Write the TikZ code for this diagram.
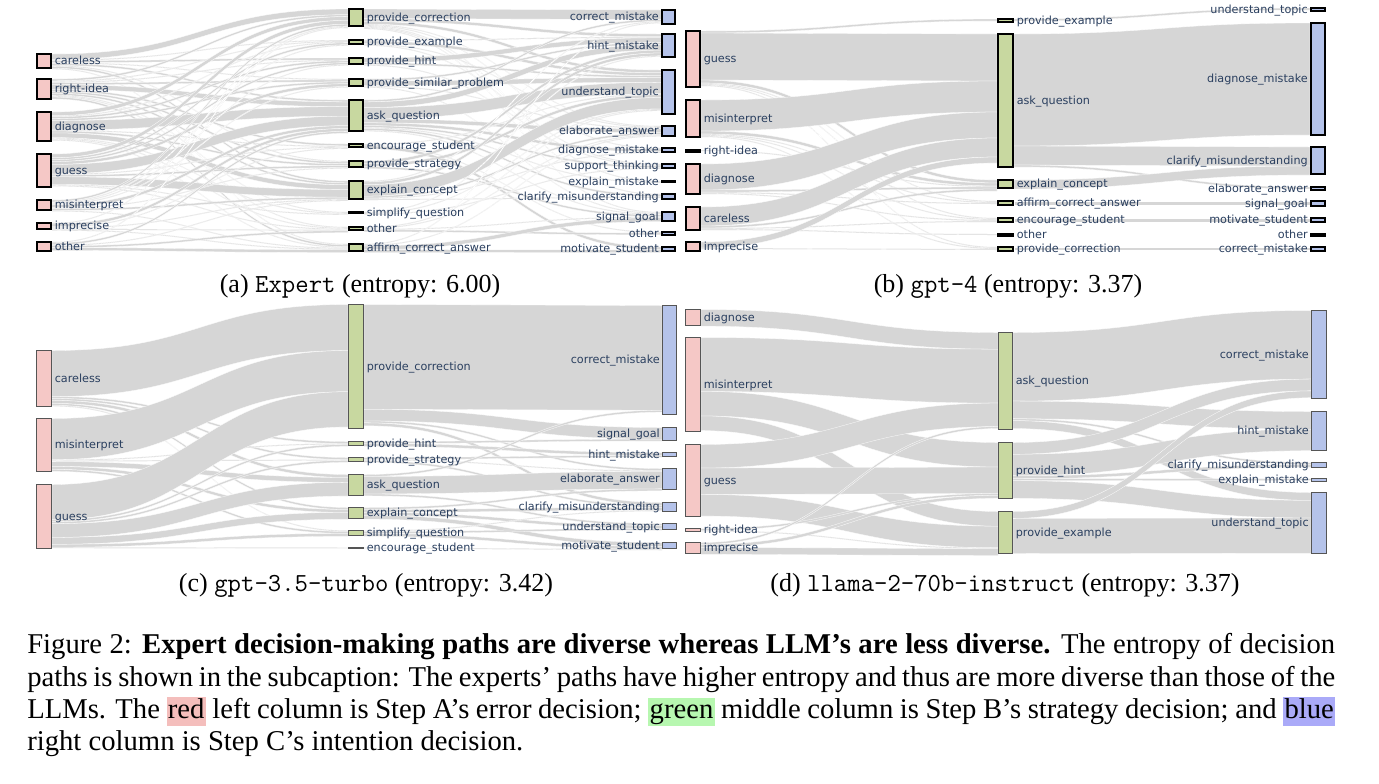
\documentclass[tikz,border=0pt]{standalone}
\usepackage{fontspec}
\setmainfont{Liberation Serif}
\newfontfamily\lblfont{DejaVu Sans}
\definecolor{pinkfill}{RGB}{245,200,198}
\definecolor{greenfill}{RGB}{200,216,160}
\definecolor{bluefill}{RGB}{181,195,234}
\definecolor{flowgray}{RGB}{214,214,214}
\definecolor{lblcol}{RGB}{42,63,95}
\definecolor{boxgray}{RGB}{85,85,85}
\definecolor{hlred}{RGB}{244,190,188}
\definecolor{hlgreen}{RGB}{183,247,176}
\definecolor{hlblue}{RGB}{170,170,248}
\makeatletter
\newcommand\skbw{2}
\newcommand\skscale{1}
\newcommand\skboxes{}
\newcommand\sknode[8]{%
  \pgfmathsetmacro\sk@t{#4+\skbw/2}%
  \expandafter\xdef\csname skxl@#1\endcsname{#2}%
  \expandafter\xdef\csname skxr@#1\endcsname{#3}%
  \expandafter\xdef\csname skout@#1\endcsname{\sk@t}%
  \expandafter\xdef\csname skin@#1\endcsname{\sk@t}%
  \edef\sk@tmp{\noexpand\skdrawbox{#1}{#2}{#3}{#4}{#5}{\unexpanded{#6}}{\skbw}{\unexpanded{#7}}{#8}}%
  \expandafter\g@addto@macro\expandafter\skboxes\expandafter{\sk@tmp}%
}
\newcommand\skdrawbox[9]{%
  \pgfmathsetmacro\sk@w{max((#3-#2-#7)*0.75,0.1)}%
  \pgfmathsetmacro\sk@h{max((#5-#4-#7)*0.75,0.1)}%
  \node[#6, inner sep=0pt, outer sep=0pt, minimum width=\sk@w pt, minimum height=\sk@h pt] (#1) at ({(#2+#3)/2},{(#4+#5)/2}) {};%
  \if#9L%
    \node[lbl, anchor=base west] (#1-t) at ({#3+2.5},{(#4+#5)/2+3.9}) {#8};%
  \else
    \node[lbl, anchor=base east] (#1-t) at ({#2-2},{(#4+#5)/2+3.9}) {#8};%
  \fi
}
\newcommand\sklink[3]{%
  \edef\sk@xa{\csname skxr@#1\endcsname}%
  \edef\sk@xb{\csname skxl@#2\endcsname}%
  \edef\sk@ya{\csname skout@#1\endcsname}%
  \edef\sk@yb{\csname skin@#2\endcsname}%
  \pgfmathsetmacro\sk@yaa{\sk@ya+#3*\skscale}%
  \pgfmathsetmacro\sk@ybb{\sk@yb+#3*\skscale}%
  \pgfmathsetmacro\sk@xm{(\sk@xa+\sk@xb)/2}%
  \expandafter\xdef\csname skout@#1\endcsname{\sk@yaa}%
  \expandafter\xdef\csname skin@#2\endcsname{\sk@ybb}%
  \path[flow] (\sk@xa,\sk@ya) .. controls (\sk@xm,\sk@ya) and (\sk@xm,\sk@yb) .. (\sk@xb,\sk@yb)
     -- (\sk@xb,\sk@ybb) .. controls (\sk@xm,\sk@ybb) and (\sk@xm,\sk@yaa) .. (\sk@xa,\sk@yaa) -- cycle;%
}
\newcommand\sklinks[3]{%
  \foreach \sk@d/\sk@v in {#3} {\sklink{#1}{#2\sk@d}{\sk@v}}%
}
\makeatother
\newcommand\hlbox[2]{{\setlength{\fboxsep}{1pt}\colorbox{#1}{\vphantom{Ag}#2}}}
\tikzset{
  flow/.style={fill=flowgray, draw=white, line width=0.2pt},
  boxA/.style={draw=black, line width=1.5pt},
  boxC/.style={draw=boxgray, line width=0.75pt},
  lbl/.style={font=\lblfont\fontsize{8.4}{10}\selectfont, text=lblcol, inner sep=0pt},
  rA/.style={boxA, fill=pinkfill}, gA/.style={boxA, fill=greenfill}, bA/.style={boxA, fill=bluefill},
  rC/.style={boxC, fill=pinkfill}, gC/.style={boxC, fill=greenfill}, bC/.style={boxC, fill=bluefill},
  subcap/.style={font=\fontsize{19.5}{24}\selectfont, inner sep=0pt}
}
\begin{document}
\begin{tikzpicture}[x=0.75pt,y=-0.75pt]
\fill[white] (0,0) rectangle (1379,783);
\useasboundingbox (0,0) rectangle (1379,783);
%% ---------------- (a) Expert ----------------
\renewcommand\skbw{2}
\sknode{aL-ca}{36}{52}{53}{69}{rA}{careless}{L}
\sknode{aL-ri}{36}{52}{78}{100}{rA}{right-idea}{L}
\sknode{aL-di}{36}{52}{111}{142}{rA}{diagnose}{L}
\sknode{aL-gu}{36}{52}{153}{188}{rA}{guess}{L}
\sknode{aL-mi}{36}{52}{199}{211}{rA}{misinterpret}{L}
\sknode{aL-im}{36}{52}{222}{230}{rA}{imprecise}{L}
\sknode{aL-ot}{36}{52}{241}{252}{rA}{other}{L}
\sknode{aM-pc}{348}{364}{8}{27}{gA}{provide\_correction}{L}
\sknode{aM-pe}{348}{364}{39}{45}{gA}{provide\_example}{L}
\sknode{aM-ph}{348}{364}{57}{65}{gA}{provide\_hint}{L}
\sknode{aM-psp}{348}{364}{78}{87}{gA}{provide\_similar\_problem}{L}
\sknode{aM-aq}{348}{364}{99}{132}{gA}{ask\_question}{L}
\sknode{aM-es}{348}{364}{143}{148}{gA}{encourage\_student}{L}
\sknode{aM-ps}{348}{364}{160}{168}{gA}{provide\_strategy}{L}
\sknode{aM-ec}{348}{364}{180}{200}{gA}{explain\_concept}{L}
\sknode{aM-sq}{348}{364}{211}{214}{gA}{simplify\_question}{L}
\sknode{aM-ot}{348}{364}{226}{231}{gA}{other}{L}
\sknode{aM-aca}{348}{364}{243}{252}{gA}{affirm\_correct\_answer}{L}
\sknode{aR-cm}{661}{676}{9}{25}{bA}{correct\_mistake}{R}
\sknode{aR-hm}{661}{676}{33}{58}{bA}{hint\_mistake}{R}
\sknode{aR-ut}{661}{676}{69}{115}{bA}{understand\_topic}{R}
\sknode{aR-ea}{661}{676}{125}{137}{bA}{elaborate\_answer}{R}
\sknode{aR-dm}{661}{676}{147}{153}{bA}{diagnose\_mistake}{R}
\sknode{aR-st}{661}{676}{163}{169}{bA}{support\_thinking}{R}
\sknode{aR-em}{661}{676}{180}{183}{bA}{explain\_mistake}{R}
\sknode{aR-cmu}{661}{676}{193}{200}{bA}{clarify\_misunderstanding}{R}
\sknode{aR-sg}{661}{676}{211}{222}{bA}{signal\_goal}{R}
\sknode{aR-ot}{661}{676}{231}{236}{bA}{other}{R}
\sknode{aR-ms}{661}{676}{246}{252}{bA}{motivate\_student}{R}
\renewcommand\skscale{0.95}
\sklinks{aL-ca}{aM-}{pc/6,pe/1,ph/2,psp/1,aq/2,ps/1,ec/2,aca/1}
\sklinks{aL-ri}{aM-}{pc/2,pe/1,ph/1,psp/2,aq/5,es/2,ps/2,ec/2,sq/1,ot/1,aca/2}
\sklinks{aL-di}{aM-}{pc/4,pe/1,ph/2,psp/2,aq/10,es/1,ps/2,ec/5,sq/1,ot/1,aca/1}
\sklinks{aL-gu}{aM-}{pc/4,pe/2,ph/2,psp/3,aq/10,es/1,ps/2,ec/8,sq/1,ot/1}
\sklinks{aL-mi}{aM-}{pc/2,pe/1,ph/1,psp/1,aq/3,ps/1,ec/2,aca/1}
\sklinks{aL-im}{aM-}{pc/1,aq/3,es/1,ec/1,ot/1,aca/1}
\sklinks{aL-ot}{aM-}{pc/1,aq/2,ec/1,ot/2,aca/3}
\renewcommand\skscale{0.95}
\sklinks{aM-pc}{aR-}{cm/10,hm/3,ut/3,ea/1,dm/1,em/1,cmu/1,sg/1}
\sklinks{aM-pe}{aR-}{hm/1,ut/3,ea/1,st/1}
\sklinks{aM-ph}{aR-}{hm/5,ut/2,st/1}
\sklinks{aM-psp}{aR-}{hm/2,ut/5,ea/1,sg/1}
\sklinks{aM-aq}{aR-}{cm/2,hm/6,ut/12,ea/4,dm/3,st/2,em/1,cmu/2,sg/1}
\sklinks{aM-es}{aR-}{ut/1,ot/1,ms/3}
\sklinks{aM-ps}{aR-}{hm/3,ut/3,sg/2}
\sklinks{aM-ec}{aR-}{cm/1,hm/3,ut/12,ea/2,dm/1,cmu/1}
\sklinks{aM-sq}{aR-}{hm/1,ut/1,st/1}
\sklinks{aM-ot}{aR-}{ut/1,ea/1,sg/1,ot/2}
\sklinks{aM-aca}{aR-}{cm/1,ea/1,sg/4,ms/3}
%% ---------------- (b) gpt-4 ----------------
\sknode{bL-gu}{685}{701}{30}{88}{rA}{guess}{L}
\sknode{bL-mi}{685}{701}{99}{138}{rA}{misinterpret}{L}
\sknode{bL-ri}{685}{701}{149}{153}{rA}{right-idea}{L}
\sknode{bL-di}{685}{701}{163}{195}{rA}{diagnose}{L}
\sknode{bL-ca}{685}{701}{206}{231}{rA}{careless}{L}
\sknode{bL-im}{685}{701}{241}{252}{rA}{imprecise}{L}
\sknode{bM-pe}{997}{1014}{18}{23}{gA}{provide\_example}{L}
\sknode{bM-aq}{997}{1014}{33}{168}{gA}{ask\_question}{L}
\sknode{bM-ec}{997}{1014}{179}{189}{gA}{explain\_concept}{L}
\sknode{bM-aca}{997}{1014}{200}{206}{gA}{affirm\_correct\_answer}{L}
\sknode{bM-es}{997}{1014}{217}{223}{gA}{encourage\_student}{L}
\sknode{bM-ot}{997}{1014}{233}{237}{gA}{other}{L}
\sknode{bM-pc}{997}{1014}{246}{252}{gA}{provide\_correction}{L}
\sknode{bR-ut}{1310}{1326}{7}{12}{bA}{understand\_topic}{R}
\sknode{bR-dm}{1310}{1326}{22}{136}{bA}{diagnose\_mistake}{R}
\sknode{bR-cmu}{1310}{1326}{146}{175}{bA}{clarify\_misunderstanding}{R}
\sknode{bR-ea}{1310}{1326}{186}{191}{bA}{elaborate\_answer}{R}
\sknode{bR-sg}{1310}{1326}{200}{207}{bA}{signal\_goal}{R}
\sknode{bR-ms}{1310}{1326}{217}{223}{bA}{motivate\_student}{R}
\sknode{bR-ot}{1310}{1326}{233}{237}{bA}{other}{R}
\sknode{bR-cm}{1310}{1326}{246}{252}{bA}{correct\_mistake}{R}
\renewcommand\skscale{1}
\sklinks{bL-gu}{bM-}{pe/2,aq/47,ec/3,aca/1,es/1,pc/1}
\sklinks{bL-mi}{bM-}{aq/31,ec/3,aca/1,es/1,pc/1}
\sklinks{bL-ri}{bM-}{ec/1}
\sklinks{bL-di}{bM-}{aq/26,ec/2,aca/1,es/1}
\sklinks{bL-ca}{bM-}{aq/19,ec/2,es/1,ot/1}
\sklinks{bL-im}{bM-}{aq/6,pc/1}
\sklinks{bM-pe}{bR-}{ut/2}
\sklinks{bM-aq}{bR-}{dm/112,cmu/19,ea/2}
\sklinks{bM-ec}{bR-}{cmu/9,ea/1}
\sklinks{bM-aca}{bR-}{sg/4}
\sklinks{bM-es}{bR-}{ms/4}
\sklinks{bM-ot}{bR-}{ot/1}
\sklinks{bM-pc}{bR-}{cm/3}
%% ---------------- (c) gpt-3.5-turbo ----------------
\renewcommand\skbw{1}
\sknode{cL-ca}{36}{52}{350}{407}{rC}{careless}{L}
\sknode{cL-mi}{36}{52}{418}{472}{rC}{misinterpret}{L}
\sknode{cL-gu}{36}{52}{484}{549}{rC}{guess}{L}
\sknode{cM-pc}{348}{364}{304}{429}{gC}{provide\_correction}{L}
\sknode{cM-ph}{348}{364}{441}{446}{gC}{provide\_hint}{L}
\sknode{cM-ps}{348}{364}{457}{462}{gC}{provide\_strategy}{L}
\sknode{cM-aq}{348}{364}{474}{496}{gC}{ask\_question}{L}
\sknode{cM-ec}{348}{364}{507}{519}{gC}{explain\_concept}{L}
\sknode{cM-sq}{348}{364}{530}{536}{gC}{simplify\_question}{L}
\sknode{cM-es}{348}{364}{547}{549}{gC}{encourage\_student}{L}
\sknode{cR-cm}{662}{677}{305}{415}{bC}{correct\_mistake}{R}
\sknode{cR-sg}{662}{677}{427}{441}{bC}{signal\_goal}{R}
\sknode{cR-hm}{662}{677}{452}{457}{bC}{hint\_mistake}{R}
\sknode{cR-ea}{662}{677}{468}{490}{bC}{elaborate\_answer}{R}
\sknode{cR-cmu}{662}{677}{502}{512}{bC}{clarify\_misunderstanding}{R}
\sknode{cR-ut}{662}{677}{523}{530}{bC}{understand\_topic}{R}
\sknode{cR-ms}{662}{677}{542}{549}{bC}{motivate\_student}{R}
\renewcommand\skscale{0.98}
\sklinks{cL-ca}{cM-}{pc/47,ph/2,ps/2,aq/3,ec/2,sq/1}
\sklinks{cL-mi}{cM-}{pc/42,ph/1,ps/1,aq/5,ec/3,sq/2}
\sklinks{cL-gu}{cM-}{pc/36,ph/2,ps/2,aq/14,ec/7,sq/3,es/1}
\renewcommand\skscale{0.97}
\sklinks{cM-pc}{cR-}{cm/108,sg/12,ea/2,cmu/3}
\sklinks{cM-ph}{cR-}{sg/2,hm/3}
\sklinks{cM-ps}{cR-}{hm/2,ea/1,cmu/2}
\sklinks{cM-aq}{cR-}{cm/2,ea/18,ut/2}
\sklinks{cM-ec}{cR-}{ea/2,cmu/3,ut/3,ms/4}
\sklinks{cM-sq}{cR-}{cmu/1,ut/2,ms/3}
\sklinks{cM-es}{cR-}{ms/1}
%% ---------------- (d) llama-2-70b-instruct ----------------
\sknode{dL-di}{685}{701}{309}{326}{rC}{diagnose}{L}
\sknode{dL-mi}{685}{701}{337}{432}{rC}{misinterpret}{L}
\sknode{dL-gu}{685}{701}{444}{517}{rC}{guess}{L}
\sknode{dL-ri}{685}{701}{528}{532}{rC}{right-idea}{L}
\sknode{dL-im}{685}{701}{542}{554}{rC}{imprecise}{L}
\sknode{dM-aq}{998}{1013}{332}{430}{gC}{ask\_question}{L}
\sknode{dM-ph}{998}{1013}{442}{499}{gC}{provide\_hint}{L}
\sknode{dM-pe}{998}{1013}{511}{554}{gC}{provide\_example}{L}
\sknode{dR-cm}{1311}{1327}{310}{399}{bC}{correct\_mistake}{R}
\sknode{dR-hm}{1311}{1327}{411}{451}{bC}{hint\_mistake}{R}
\sknode{dR-cmu}{1311}{1327}{462}{468}{bC}{clarify\_misunderstanding}{R}
\sknode{dR-em}{1311}{1327}{478}{482}{bC}{explain\_mistake}{R}
\sknode{dR-ut}{1311}{1327}{492}{554}{bC}{understand\_topic}{R}
\renewcommand\skscale{0.98}
\sklinks{dL-di}{dM-}{aq/17}
\sklinks{dL-mi}{dM-}{aq/55,ph/25,pe/15}
\sklinks{dL-gu}{dM-}{aq/24,ph/27,pe/22}
\sklinks{dL-ri}{dM-}{ph/2,pe/1}
\sklinks{dL-im}{dM-}{aq/2,ph/3,pe/7}
\sklinks{dM-aq}{dR-}{cm/70,hm/18,cmu/2,ut/8}
\sklinks{dM-ph}{dR-}{cm/12,hm/22,cmu/3,em/2,ut/18}
\sklinks{dM-pe}{dR-}{cm/7,ut/36}
%% boxes and labels on top
\skboxes
%% subcaptions
\node[subcap, anchor=base] (capa) at (360,292) {(a) \texttt{Expert} (entropy: 6.00)};
\node[subcap, anchor=base] (capb) at (1008,292) {(b) \texttt{gpt-4} (entropy: 3.37)};
\node[subcap, anchor=base] (capc) at (366,591) {(c) \texttt{gpt-3.5-turbo} (entropy: 3.42)};
\node[subcap, anchor=base] (capd) at (1005,591) {(d) \texttt{llama-2-70b-instruct} (entropy: 3.37)};
%% caption
\node[anchor=north west, inner sep=0pt, text width=981pt, align=justify, font=\fontsize{21.5}{24.2}\selectfont] (cap) at (27,631)
{\strut Figure 2: \textbf{Expert decision-making paths are diverse whereas LLM’s are less diverse.} The entropy of decision\linebreak
paths is shown in the subcaption: The experts’ paths have higher entropy and thus are more diverse than those of the\linebreak
LLMs. The \hlbox{hlred}{red} left column is Step A’s error decision; \hlbox{hlgreen}{green} middle column is Step B’s strategy decision; and \hlbox{hlblue}{blue}\linebreak
right column is Step C’s intention decision.};
\end{tikzpicture}
\end{document}
